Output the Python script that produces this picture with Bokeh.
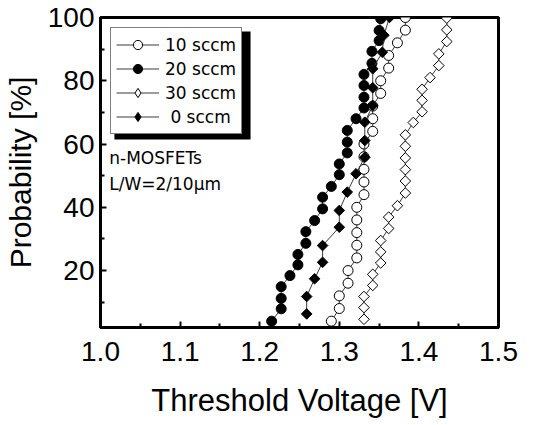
from bokeh.plotting import figure
from bokeh.models import (Range1d, Legend, LegendItem, BoxAnnotation, Label,
                          FixedTicker)
from bokeh.embed import file_html
from bokeh.resources import INLINE
import math

# Threshold voltage [V] and cumulative probability [%] per flow rate
v_10 = [1.290, 1.300, 1.300, 1.311, 1.311, 1.322, 1.322, 1.322, 1.322, 1.322,
        1.331, 1.331, 1.331, 1.331, 1.331, 1.342, 1.342, 1.342, 1.352, 1.352,
        1.362, 1.362, 1.373, 1.383, 1.383]
p_10 = [4, 8, 12, 16, 20, 24, 28, 32, 36, 40, 44, 48, 52, 56, 60, 64, 68, 72,
        76, 80, 84, 88, 92, 96, 100]

v_20 = [1.215, 1.227, 1.227, 1.227, 1.238, 1.248, 1.248, 1.258, 1.258, 1.269,
        1.279, 1.279, 1.290, 1.300, 1.300, 1.310, 1.310, 1.310, 1.321, 1.331,
        1.331, 1.331, 1.331, 1.341, 1.341, 1.350, 1.350, 1.352]
p_20 = [4.0, 7.9, 11.2, 14.9, 18.4, 21.8, 25.1, 28.6, 32.3, 35.8, 39.5, 43.2,
        46.6, 50.3, 53.7, 57.2, 60.6, 64.3, 68.0, 71.4, 74.8, 78.5, 82.0, 85.5,
        89.3, 92.7, 95.9, 99.6]

v_30 = [1.331, 1.331, 1.331, 1.342, 1.342, 1.352, 1.352, 1.352, 1.362, 1.362,
        1.373, 1.383, 1.383, 1.383, 1.383, 1.383, 1.383, 1.393, 1.404, 1.404,
        1.404, 1.414, 1.425, 1.425, 1.435, 1.435, 1.435]
p_30 = [4.6, 8.3, 11.8, 15.3, 18.8, 22.4, 25.9, 29.5, 33.3, 36.9, 40.5, 44.5,
        48.3, 51.9, 55.6, 59.3, 62.9, 66.8, 70.2, 73.8, 77.3, 81.0, 84.8, 88.5,
        92.4, 96.1, 99.8]

v_0 = [1.259, 1.259, 1.269, 1.279, 1.279, 1.300, 1.300, 1.310, 1.321, 1.332,
       1.332, 1.332, 1.342, 1.342, 1.342, 1.354, 1.356, 1.363]
p_0 = [6.3, 11.8, 17.4, 22.6, 27.9, 33.7, 39.0, 44.8, 50.6, 55.8, 61.1, 66.9,
       72.2, 77.8, 83.8, 89.0, 94.4, 100]

x_ticks = [1.0, 1.1, 1.2, 1.3, 1.4, 1.5]
y_ticks = [20, 40, 60, 80, 100]

FONT = "Liberation Sans"
TEXT_FONT = "DejaVu Sans"

p = figure(width=542, height=425, output_backend="svg", toolbar_location=None,
           x_range=Range1d(1.0, 1.5), y_range=Range1d(2, 100),
           min_border_left=97, min_border_right=44, min_border_top=17,
           min_border_bottom=98)
p.grid.visible = False
p.outline_line_color = "black"
p.outline_line_width = 3
p.background_fill_color = "white"
p.border_fill_color = "white"

for ax in (p.xaxis[0], p.yaxis[0]):
    ax.axis_line_width = 3
    ax.axis_line_color = "black"
    ax.major_tick_in = 6
    ax.major_tick_out = 0
    ax.minor_tick_in = 4
    ax.minor_tick_out = 0
    ax.major_tick_line_width = 2
    ax.minor_tick_line_width = 2
    ax.major_label_text_font = FONT
    ax.major_label_text_color = "black"
    ax.axis_label_text_font = FONT
    ax.axis_label_text_font_style = "normal"
    ax.axis_label_text_color = "black"

xa = p.xaxis[0]
xa.ticker = FixedTicker(ticks=x_ticks, minor_ticks=[1.05, 1.15, 1.25, 1.35, 1.45])
xa.major_label_overrides = {t: f"{t:.1f}" for t in x_ticks}
xa.major_label_text_font_size = "28px"
xa.major_label_standoff = 14
xa.axis_label = "Threshold Voltage [V]"
xa.axis_label_text_font_size = "31px"
xa.axis_label_standoff = 19

ya = p.yaxis[0]
ya.ticker = FixedTicker(ticks=y_ticks, minor_ticks=[10, 30, 50, 70, 90])
ya.major_label_text_font_size = "28px"
ya.major_label_standoff = 6
ya.axis_label = "Probability [%]"
ya.axis_label_text_font_size = "30px"
ya.axis_label_standoff = 8

LINE = "#3a3a3a"
items = []
nan = float("nan")

def series(v, prob, label, fill, diamond=False):
    ln = p.line(v, prob, line_color=LINE, line_width=1)
    if diamond:
        # rotated squares on the plot, a diamond proxy for the legend key
        p.scatter(v, prob, marker="square", size=7.5, angle=math.pi / 4,
                  fill_color=fill, line_color="black", line_width=1)
        key = p.scatter([nan], [nan], marker="diamond", size=12,
                        fill_color=fill, line_color="black", line_width=1)
    else:
        key = p.scatter(v, prob, marker="circle", size=10,
                        fill_color=fill, line_color="black", line_width=1)
    items.append(LegendItem(label=label, renderers=[ln, key]))

series(v_10, p_10, "10 sccm", "white")
series(v_20, p_20, "20 sccm", "black")
series(v_30, p_30, "30 sccm", "white", diamond=True)
series(v_0, p_0, "\u00a00 sccm", "black", diamond=True)

# drop shadow behind the legend box
shadow = BoxAnnotation(left=1.0175, right=1.1885, top=95.6, bottom=61.4,
                       fill_color="black", fill_alpha=1.0, line_color=None)
p.add_layout(shadow)

legend = Legend(items=items, location="top_left", margin=10, padding=5,
                spacing=1, glyph_width=43, glyph_height=23, label_standoff=6,
                label_text_font=TEXT_FONT, label_text_font_size="17px",
                label_text_color="black", border_line_color="black",
                border_line_width=1.5, background_fill_color="white",
                background_fill_alpha=1.0)
p.add_layout(legend)

for txt, yv in (("n-MOSFETs", 55.7), ("L/W=2/10\u00b5m", 47.5)):
    p.add_layout(Label(x=1.011, y=yv, text=txt, text_font=TEXT_FONT,
                       text_font_size="17px", text_color="black",
                       text_baseline="middle", text_align="left"))

open("out.html", "w").write(file_html(p, INLINE))
